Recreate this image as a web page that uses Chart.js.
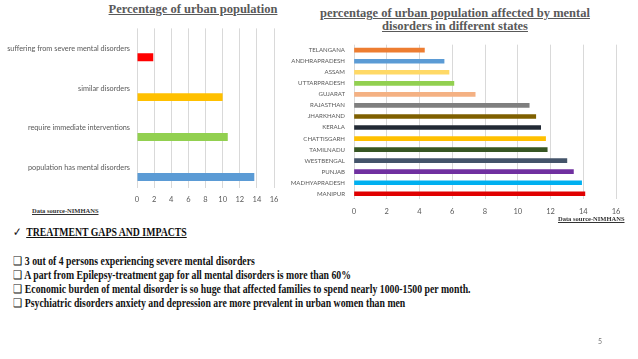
<!DOCTYPE html>
<html>
<head>
<meta charset="utf-8">
<script src="https://cdn.jsdelivr.net/npm/chart.js@4.4.1/dist/chart.umd.min.js"></script>
<style>
  body { margin: 0; background: #fff; width: 638px; height: 359px; overflow: hidden; position: relative; font-family: "Liberation Serif", serif; }
  .abs { position: absolute; white-space: nowrap; }
  .titulo { font-weight: bold; color: #595959; text-decoration: underline; text-align: center; font-size: 12.5px; line-height: 13px; }
  .fuente { font-weight: bold; font-size: 6.5px; color: #333; text-decoration: underline; }
  .linea { font-weight: bold; font-size: 11.5px; color: #111; transform-origin: left center; transform: scaleX(0.85); }
</style>
</head>
<body>

<div class="abs titulo" style="left:93px; top:3px; width:200px;">Percentage of urban population</div>
<div class="abs titulo" style="left:305px; top:7px; width:300px;">percentage of urban population affected by mental<br>disorders in different states</div>

<div class="abs" style="left:0; top:17px; width:290px; height:187px;"><canvas id="chartUrbano"></canvas></div>
<div class="abs" style="left:290px; top:31.7px; width:348px; height:184.3px;"><canvas id="chartEstados"></canvas></div>

<div class="abs fuente" style="left:32px; top:207px;">Data source-NIMHANS</div>
<div class="abs fuente" style="left:558px; top:215px;">Data source-NIMHANS</div>

<div class="abs linea" style="left:13px; top:225px;"><span style="font-weight:normal;">&#10003;</span>&nbsp; <u>TREATMENT GAPS AND IMPACTS</u></div>
<div class="abs linea" style="left:13px; top:254px;"><span style="font-weight:normal;">&#10065;</span> 3 out of 4 persons experiencing severe mental disorders</div>
<div class="abs linea" style="left:13px; top:268px;"><span style="font-weight:normal;">&#10065;</span> A part from Epilepsy-treatment gap for all mental disorders is more than 60%</div>
<div class="abs linea" style="left:13px; top:282px;"><span style="font-weight:normal;">&#10065;</span> Economic burden of mental disorder is so huge that affected families to spend nearly 1000-1500 per month.</div>
<div class="abs linea" style="left:13px; top:296px;"><span style="font-weight:normal;">&#10065;</span> Psychiatric disorders anxiety and depression are more prevalent in urban women than men</div>

<div class="abs" style="left:598px; top:337px; font-family: Lato, sans-serif; font-size:7px; color:#777;">5</div>

<script>
// --- Datos del grafico izquierdo ---
const categoriasUrbano = [
    'suffering from severe mental disorders',
    'similar disorders',
    'require immediate interventions',
    'population has mental disorders'
];
const valoresUrbano = [1.9, 10.0, 10.6, 13.7];
const coloresUrbano = ['#FF0000', '#FFC000', '#92D050', '#5B9BD5'];

// --- Datos del grafico derecho ---
const estados = [
    'TELANGANA', 'ANDHRAPRADESH', 'ASSAM', 'UTTARPRADESH', 'GUJARAT', 'RAJASTHAN', 'JHARKHAND',
    'KERALA', 'CHATTISGARH', 'TAMILNADU', 'WESTBENGAL', 'PUNJAB', 'MADHYAPRADESH', 'MANIPUR'
];
const valoresEstados = [4.3, 5.5, 5.8, 6.1, 7.4, 10.7, 11.1, 11.4, 11.7, 11.8, 13.0, 13.4, 13.9, 14.1];
const coloresEstados = [
    '#ED7D31', '#5B9BD5', '#FFD966', '#92D050', '#F4B183', '#7F7F7F', '#7F6000',
    '#222A35', '#FFC000', '#375623', '#44546A', '#7030A0', '#00B0F0', '#E00000'
];

const ticksEjeX = [0, 2, 4, 6, 8, 10, 12, 14, 16];

const colorTexto = '#595959';
const colorGrid = '#D9D9D9';

// Helper para ejes X comunes
const ejeX = (altura, pad) => ({
    min: 0,
    max: 16,
    afterBuildTicks: (scale) => { scale.ticks = ticksEjeX.map(v => ({ value: v })); },
    ticks: { color: colorTexto, font: { family: 'Lato, sans-serif', size: 7.5 }, padding: pad },
    grid: { color: colorGrid, drawTicks: false },
    border: { display: false },
    afterFit: (scale) => { scale.height = altura; }
});

// En el original la barra va en la mitad inferior de cada categoria (serie vacia arriba)
new Chart(document.getElementById('chartUrbano'), {
    type: 'bar',
    data: {
        labels: categoriasUrbano,
        datasets: [
            { data: categoriasUrbano.map(() => null), backgroundColor: 'transparent' },
            { data: valoresUrbano, backgroundColor: coloresUrbano }
        ]
    },
    options: {
        indexAxis: 'y',
        responsive: true,
        maintainAspectRatio: false,
        animation: false,
        categoryPercentage: 0.893,
        barPercentage: 0.444,
        layout: { padding: { top: 0, right: 16, left: 0, bottom: 0 } },
        plugins: { legend: { display: false }, tooltip: { enabled: false } },
        scales: {
            x: ejeX(16, 7),
            y: {
                ticks: { color: colorTexto, font: { family: 'Lato, sans-serif', size: 7.3 }, padding: 7 },
                grid: { display: false, drawTicks: false },
                border: { display: false },
                afterFit: (scale) => { scale.width = 137; }
            }
        }
    }
});

new Chart(document.getElementById('chartEstados'), {
    type: 'bar',
    data: {
        labels: estados,
        datasets: [{
            data: valoresEstados,
            backgroundColor: coloresEstados,
            barThickness: 4
        }]
    },
    options: {
        indexAxis: 'y',
        responsive: true,
        maintainAspectRatio: false,
        animation: false,
        layout: { padding: { top: 0, right: 22, left: 0, bottom: 0 } },
        plugins: { legend: { display: false }, tooltip: { enabled: false } },
        scales: {
            x: ejeX(17, 8),
            y: {
                ticks: { color: colorTexto, font: { family: 'Lato, sans-serif', size: 6.1 }, padding: 9, autoSkip: false },
                grid: { display: false, drawTicks: false },
                border: { display: false },
                afterFit: (scale) => { scale.width = 64; }
            }
        }
    }
});
</script>
</body>
</html>
